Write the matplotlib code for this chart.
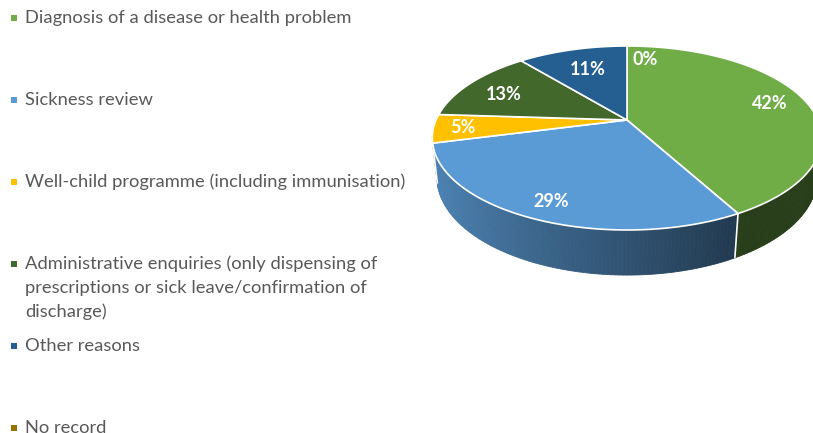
import numpy as np
import matplotlib
matplotlib.use("Agg")
import matplotlib.pyplot as plt
from matplotlib.patches import Polygon, Rectangle

# ---------------- data ----------------
categories = [
    "Diagnosis of a disease or health problem",
    "Sickness review",
    "Well-child programme (including immunisation)",
    "Administrative enquiries (only dispensing of\nprescriptions or sick leave/confirmation of\ndischarge)",
    "Other reasons",
    "No record",
]
values = [42, 29, 5, 13, 11, 0]
colors = ["#70AD47", "#5B9BD5", "#FFC000", "#43682B", "#255E91", "#997300"]

# label placement tweaks (radius fraction, angle shift in degrees)
label_r = [0.80, 0.85, 0.85, 0.75, 0.68, 0.80]
label_dtheta = [0, 0, 0, -3, 0, 8]

# ---------------- figure ----------------
W, H = 813, 433
fig = plt.figure(figsize=(W / 100, H / 100), dpi=100)
ax = fig.add_axes([0, 0, 1, 1])
ax.set_xlim(0, W)
ax.set_ylim(H, 0)
ax.axis("off")

# perspective view parameters (pixels)
cx, cy = 627.0, 120.0
alpha = np.radians(62.4)
cs, sn = np.cos(alpha), np.sin(alpha)
d = 4.53
f = 865.0
h = 0.2365


def proj(theta_deg, r=1.0, z=0.0):
    t = np.radians(np.asarray(theta_deg, dtype=float))
    x = r * np.sin(t)
    y = r * np.cos(t)
    yup = y * cs + z * sn
    depth = y * sn - z * cs
    X = x * f / (d + depth)
    Y = yup * f / (d + depth)
    return cx + X, cy - Y, depth


def shade(hexcol, theta):
    rgb = np.array(matplotlib.colors.to_rgb(hexcol))
    s = -np.sin(np.radians(theta))
    fac = 0.37 + 0.331 * (s + 0.485)
    fac = max(fac, 0.36)
    fac = min(fac, 0.9)
    return tuple(rgb * fac)


total = float(sum(values))
bounds = np.concatenate([[0], np.cumsum(values)]) / total * 360.0

# ---- side walls (strips sorted far to near) ----
strips = []
for i, v in enumerate(values):
    a0, a1 = bounds[i], bounds[i + 1]
    if a1 - a0 <= 0:
        continue
    n = max(2, int(np.ceil((a1 - a0) / 1.0)))
    th = np.linspace(a0, a1, n + 1)
    for k in range(n):
        tA, tB = th[k], th[k + 1]
        tm = 0.5 * (tA + tB)
        if np.cos(np.radians(tm)) > 0.05:
            continue
        xa, ya, _ = proj(tA, 1, 0)
        xb, yb, _ = proj(tB, 1, 0)
        xc, yc, _ = proj(tB, 1, -h)
        xd, yd, _ = proj(tA, 1, -h)
        _, _, dm = proj(tm, 1, -h / 2)
        strips.append((dm, [(xa, ya), (xb, yb), (xc, yc), (xd, yd)], shade(colors[i], tm)))
strips.sort(key=lambda s: -s[0])
for dm, pts, col in strips:
    ax.add_patch(Polygon(pts, closed=True, facecolor=col, edgecolor=col, linewidth=0.6, antialiased=True))

# white separators on the walls at slice boundaries
for b in bounds[1:-1]:
    if np.cos(np.radians(b)) < 0:
        x1, y1, _ = proj(b, 1, 0)
        x2, y2, _ = proj(b, 1, -h)
        ax.plot([x1, x2], [y1, y2], color="white", lw=1.2, solid_capstyle="butt")

# ---- top faces ----
for i, v in enumerate(values):
    a0, a1 = bounds[i], bounds[i + 1]
    if a1 - a0 <= 0:
        continue
    th = np.linspace(a0, a1, max(3, int((a1 - a0) * 2)))
    xs, ys, _ = proj(th, 1, 0)
    pts = [(cx, cy)] + list(zip(xs, ys))
    ax.add_patch(Polygon(pts, closed=True, facecolor=colors[i], edgecolor="white",
                         linewidth=1.2, joinstyle="round"))

# ---- data labels ----
for i, v in enumerate(values):
    mid = 0.5 * (bounds[i] + bounds[i + 1]) + label_dtheta[i]
    lx, ly, _ = proj(mid, label_r[i], 0)
    ax.text(lx, ly, f"{v}%", color="white", fontsize=13, fontweight="bold",
            family=["Lato", "DejaVu Sans"], ha="center", va="center")

# ---- legend ----
leg_y0 = 18
leg_step = 82
line_step = 24
for i, lab in enumerate(categories):
    y = leg_y0 + i * leg_step
    ax.add_patch(Rectangle((11, y - 3), 6, 6, facecolor=colors[i], edgecolor="none"))
    for j, line in enumerate(lab.split("\n")):
        ax.text(25, y + j * line_step, line, color="#595959", fontsize=13.2,
                family=["Lato", "DejaVu Sans"], ha="left", va="center")

fig.savefig("out.png", dpi=100)
